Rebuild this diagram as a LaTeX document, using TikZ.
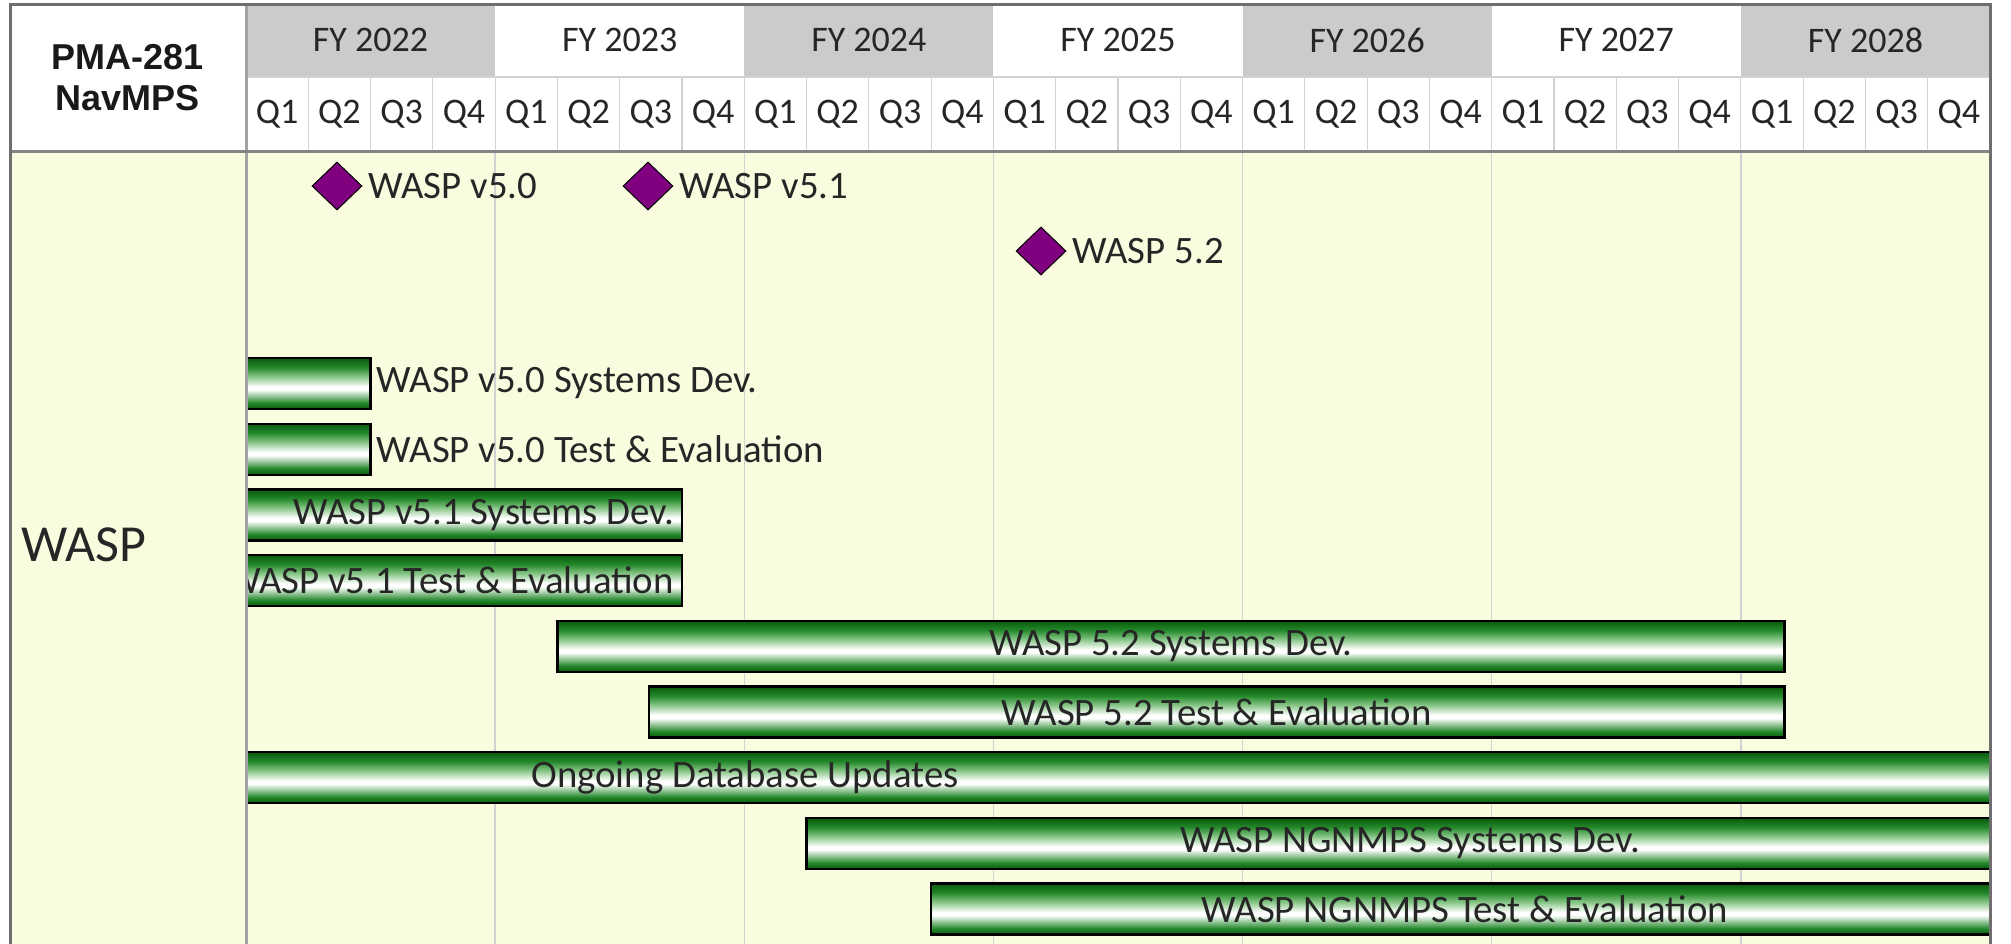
\documentclass[tikz,border=0pt]{standalone}
\usepackage{fontspec}
\setmainfont{Carlito}
\newfontfamily\hdrfont{Liberation Sans}
\usetikzlibrary{shapes.geometric}
\definecolor{bodybg}{HTML}{FAFCE0}
\definecolor{hdrgray}{HTML}{C9CBCD}
\definecolor{gridgray}{HTML}{D2D2D2}
\definecolor{framegray}{HTML}{6E6E6E}
\definecolor{sepgray}{HTML}{A4A4A4}
\definecolor{dkg}{HTML}{0A5A0C}
\definecolor{mdg}{HTML}{23882A}
\definecolor{ltg}{HTML}{86C586}
\definecolor{mspurple}{HTML}{800080}
\pgfdeclareverticalshading{barshade}{100bp}{color(0bp)=(dkg); color(25bp)=(dkg); color(31bp)=(mdg); color(44bp)=(white); color(47bp)=(white); color(57bp)=(ltg); color(66bp)=(mdg); color(75bp)=(dkg); color(100bp)=(dkg)}
\newcommand\qx[1]{(246+(#1)*62.2857)}
\tikzset{
  lbl/.style={font=\fontsize{36}{43}\selectfont, text=black!85, inner sep=0pt},
  blbl/.style={font=\fontsize{38.8}{46}\selectfont, text=black!85, inner sep=0pt},
  barbox/.style={shading=barshade, draw=black, line width=2.3pt},
  ms/.style={diamond, fill=mspurple, draw=black, line width=1pt, minimum width=50pt, minimum height=48pt, inner sep=0pt},
  gridline/.style={draw=gridgray, line width=1.5pt},
}
\begin{document}
\begin{tikzpicture}[x=1pt,y=-1pt]
\useasboundingbox (0,0) rectangle (2011,943);
\fill[white] (0,0) rectangle (2011,943);
\fill[bodybg] (10,151) rectangle (1990,950);
% header year cells
\foreach \i in {0,2,4,6}
  \fill[hdrgray] ({246+\i*249.1429},4) rectangle ({246+(\i+1)*249.1429},77);
\foreach \i/\y in {0/2022,1/2023,2/2024,3/2025,4/2026,5/2027,6/2028}
  \node[lbl] (fy\y) at ({246+(\i+0.5)*249.1429},40) {FY \y};
\foreach \i in {0,...,27}{
  \pgfmathtruncatemacro\q{mod(\i,4)+1}
  \node[lbl] (q\i) at ({\qx{\i+0.5}},114) {Q\q};
}
\draw[gridline] (246,77) -- (1990,77);
\foreach \i in {1,...,27}
  \draw[gridline, line width=1.2pt] ({\qx{\i}},77) -- ({\qx{\i}},151);
\foreach \i in {1,...,6}
  \draw[gridline] ({\qx{4*\i}},151) -- ({\qx{4*\i}},950);
% header label
\node[font=\hdrfont\bfseries\fontsize{36}{41}\selectfont, align=center, text=black!90] (pma) at (128,78) {PMA-281\\NavMPS};
\node[font=\fontsize{52}{60}\selectfont, text=black!85, inner sep=0pt, anchor=west] (wasp) at (21,545) {WASP};
% milestones
\node[ms] (m50) at (337,186) {};
\node[blbl, anchor=west] (m50l) at ([xshift=6pt]m50.east) {WASP v5.0};
\node[ms] (m51) at (648,186) {};
\node[blbl, anchor=west] (m51l) at ([xshift=6pt]m51.east) {WASP v5.1};
\node[ms] (m52) at (1041,251) {};
\node[blbl, anchor=west] (m52l) at ([xshift=6pt]m52.east) {WASP 5.2};
% bars
\begin{scope}
\clip (247,152) rectangle (1989,950);
\path[barbox] (238,358) rectangle ({\qx{2}},409);
\node[blbl, anchor=west] (b1) at ({\qx{2}+6},383.5) {WASP v5.0 Systems Dev.};
\path[barbox] (238,423.7) rectangle ({\qx{2}},474.7);
\node[blbl, anchor=west] (b2) at ({\qx{2}+6},449.2) {WASP v5.0 Test \& Evaluation};
\path[barbox] (238,489.4) rectangle ({\qx{7}},540.4);
\node[blbl, anchor=east] (b3) at ({\qx{7}-8},514.9) {WASP v5.1 Systems Dev.};
\path[barbox] (238,555.1) rectangle ({\qx{7}},606.1);
\node[blbl, anchor=east] (b4) at ({\qx{7}-8},580.6) {WASP v5.1 Test \& Evaluation};
\path[barbox] ({\qx{5}},620.8) rectangle ({\qx{24.7}},671.8);
\node[blbl] (b5) at ({(\qx{5}+\qx{24.7})/2},646.3) {WASP 5.2 Systems Dev.};
\path[barbox] ({\qx{6.47}},686.5) rectangle ({\qx{24.7}},737.5);
\node[blbl] (b6) at ({(\qx{6.47}+\qx{24.7})/2},712) {WASP 5.2 Test \& Evaluation};
\path[barbox] (238,752.2) rectangle (2000,803.2);
\node[blbl] (b7) at (745,777.7) {Ongoing Database Updates};
\path[barbox] ({\qx{9}},817.9) rectangle (2000,868.9);
\node[blbl] (b8) at (1410,843.4) {WASP NGNMPS Systems Dev.};
\path[barbox] ({\qx{11}},883.6) rectangle (2000,934.6);
\node[blbl] (b9) at (1465,909.1) {WASP NGNMPS Test \& Evaluation};
\end{scope}
% frame lines
\draw[sepgray, line width=3pt] (246,4) -- (246,950);
\draw[framegray!85, line width=3pt] (10,151) -- (1990,151);
\draw[framegray, line width=3pt] (10,950) -- (10,4) -- (1990,4) -- (1990,950);
\end{tikzpicture}
\end{document}
